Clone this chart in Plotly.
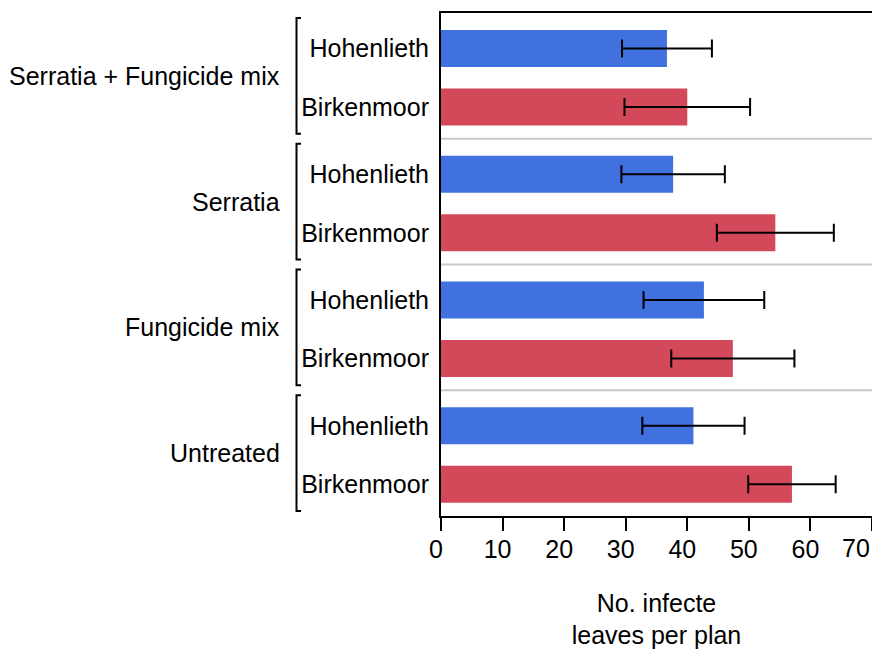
import plotly.graph_objects as go

# Treatment groups, top to bottom, and the two sites within each group
treatments = ["Serratia + Fungicide mix", "Serratia", "Fungicide mix", "Untreated"]
sites = ["Hohenlieth", "Birkenmoor"]

# Mean infected leaves per plant and error (±) for each site, per treatment
hohenlieth_mean = [36.7, 37.7, 42.7, 41.0]
hohenlieth_err = [7.3, 8.4, 9.8, 8.3]
birkenmoor_mean = [40.0, 54.3, 47.4, 57.0]
birkenmoor_err = [10.2, 9.5, 10.0, 7.1]

x_ticks = [0, 10, 20, 30, 40, 50, 60, 70]
x_ticktext = ["0", "10", "20", "30", "40", "50", "60", "70"]
X_MAX = 70

FONT = "Liberation Sans, Arial, Helvetica, sans-serif"
FS = 25
BLUE = "#4171DF"
RED = "#D4495A"

# Each treatment group occupies one unit on the y axis
pos_h = [g + 0.283 for g in range(len(treatments))]
pos_b = [g + 0.748 for g in range(len(treatments))]

fig = go.Figure()
fig.add_trace(go.Bar(
    x=hohenlieth_mean, y=pos_h, orientation="h", width=0.294,
    marker=dict(color=BLUE, line=dict(width=0)), name=sites[0],
    error_x=dict(type="data", array=hohenlieth_err, color="black",
                 thickness=2, width=9),
))
fig.add_trace(go.Bar(
    x=birkenmoor_mean, y=pos_b, orientation="h", width=0.294,
    marker=dict(color=RED, line=dict(width=0)), name=sites[1],
    error_x=dict(type="data", array=birkenmoor_err, color="black",
                 thickness=2, width=9),
))
# empty trace so the overlaid axis carrying the last tick label is drawn
fig.add_trace(go.Scatter(x=[], y=[], xaxis="x2", yaxis="y",
                         showlegend=False, hoverinfo="skip"))

shapes = []
# light separators between treatment groups
for g in range(1, len(treatments)):
    shapes.append(dict(type="line", xref="paper", yref="y", x0=0, x1=1,
                       y0=g, y1=g, line=dict(color="#c8c8c8", width=2),
                       layer="below"))
# brackets grouping the site labels of each treatment
annotations = []
for g, name in enumerate(treatments):
    y0, y1 = g + 0.04, g + 0.96
    shapes.append(dict(
        type="path", xref="paper", yref="y", xsizemode="pixel", xanchor=0,
        path=f"M -140,{y0} L -144.5,{y0} L -144.5,{y1} L -140,{y1}",
        line=dict(color="black", width=2),
    ))
    annotations.append(dict(
        text=name, xref="paper", yref="y", x=0, y=g + 0.5,
        xanchor="right", yanchor="middle", xshift=-159, showarrow=False,
        font=dict(family=FONT, size=FS, color="black"),
    ))

tickfont = dict(family=FONT, size=FS, color="black")

fig.update_layout(
    width=872, height=652,
    margin=dict(l=441, r=0, t=13, b=136, autoexpand=False),
    paper_bgcolor="white", plot_bgcolor="white",
    showlegend=False, barmode="overlay",
    font=dict(family=FONT, size=FS, color="black"),
    shapes=shapes, annotations=annotations,
    xaxis=dict(
        range=[0, X_MAX], tickvals=x_ticks,
        # the label at the right edge is drawn by xaxis2, nudged inward
        ticktext=x_ticktext[:-1] + [""],
        automargin=False,
        showgrid=False, zeroline=False,
        showline=True, linecolor="black", linewidth=2, mirror=True,
        ticks="outside", ticklen=13, tickwidth=2, tickcolor="black",
        ticklabelshift=-5, ticklabelstandoff=-3,
        tickfont=tickfont,
        title=dict(text="No. infecte<br>leaves per plan", standoff=32,
                   font=dict(family=FONT, size=FS, color="black")),
    ),
    xaxis2=dict(
        overlaying="x", anchor="y", side="bottom",
        range=[0, X_MAX], tickvals=x_ticks[-1:], ticktext=x_ticktext[-1:],
        automargin=False, showgrid=False, zeroline=False, showline=False,
        ticks="outside", ticklen=13, tickwidth=2,
        tickcolor="rgba(0,0,0,0)",
        ticklabelshift=-16, ticklabelstandoff=-3, ticklabeloverflow="allow",
        tickfont=tickfont,
    ),
    yaxis=dict(
        range=[len(treatments), 0],
        tickvals=pos_h + pos_b,
        ticktext=[sites[0]] * len(treatments) + [sites[1]] * len(treatments),
        automargin=False,
        showgrid=False, zeroline=False,
        showline=True, linecolor="black", linewidth=2,
        ticks="", ticklabelstandoff=5,
        tickfont=tickfont,
    ),
)

fig.write_html("out.html")
